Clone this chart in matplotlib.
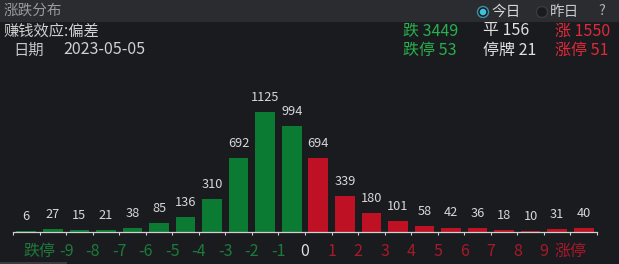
import matplotlib
matplotlib.use("Agg")
import matplotlib.pyplot as plt
import numpy as np
from matplotlib.patches import Rectangle, Ellipse

plt.rcParams['font.family'] = ['Noto Sans CJK SC', 'DejaVu Sans']

values = [6, 27, 15, 21, 38, 85, 136, 310, 692, 1125, 994,
          694, 339, 180, 101, 58, 42, 36, 18, 10, 31, 40]
bar_colors = ['#0b7a33'] * 11 + ['#be1224'] * 11
tick_labels = ['跌停', '-9', '-8', '-7', '-6', '-5', '-4', '-3', '-2', '-1', '0',
               '1', '2', '3', '4', '5', '6', '7', '8', '9', '涨停']
label_colors = ['#1d7a3c'] * 10 + ['#e0e0e0'] + ['#a8192a'] * 10

W, H = 619, 264
BG = '#1a1b1f'
fig = plt.figure(figsize=(W / 100, H / 100), dpi=100, facecolor=BG)


def fx(px):
    return px / W


def fy(py):
    return 1 - py / H


# header band
fig.add_artist(Rectangle((0, fy(22)), 1, 22 / H, transform=fig.transFigure,
                         facecolor='#2b2c30', edgecolor='none', zorder=0))

ax_l, ax_r, ax_b, ax_t = 13, 597, 232, 95
ax = fig.add_axes([ax_l / W, (H - ax_b) / H, (ax_r - ax_l) / W, (ax_b - ax_t) / H])
ax.set_facecolor('none')
n = len(values)
x = np.arange(n) + 0.5
ax.bar(x, values, width=0.74, color=bar_colors, zorder=2)
ax.set_xlim(0, n)
ax.set_ylim(0, 1125 * (ax_b - ax_t) / 120)
for xi, v in zip(x, values):
    ax.annotate(str(v), (xi, v), xytext=(0, 10.5), textcoords='offset points',
                ha='center', va='center', color='#d8d8d8', fontsize=9.2)
for s in ['top', 'left', 'right']:
    ax.spines[s].set_visible(False)
ax.spines['bottom'].set_color('#d0d0d0')
ax.spines['bottom'].set_linewidth(0.9)
ax.set_yticks([])
ax.set_xticks(np.arange(n + 1))
ax.set_xticklabels([''] + tick_labels + [''])
ax.tick_params(axis='x', colors='#d0d0d0', length=2.5, width=0.8, pad=5.5, labelsize=11.5)
for lbl, c in zip(ax.get_xticklabels()[1:-1], label_colors):
    lbl.set_color(c)


def t(px, py, s, c, size=11):
    fig.text(fx(px), fy(py), s, color=c, fontsize=size, va='center', ha='left')


def circ(px, py, d, fc, ec, lw=1):
    fig.add_artist(Ellipse((fx(px), fy(py)), d / W, d / H, transform=fig.transFigure,
                           facecolor=fc, edgecolor=ec, lw=lw))


t(4, 11, '涨跌分布', '#9a9a9a', 10.5)
circ(483, 12, 11, '#1e1f23', '#3a8fa8')
circ(483, 12, 6.5, '#3fc2dc', 'none', 0)
t(491, 12, '今日', '#d8d8d8', 10.5)
circ(542, 12, 11, '#1a1b1f', '#3a3b3f')
t(550, 12, '昨日', '#c8c8c8', 10.5)
t(598, 11, '?', '#b0b0b0', 10.5)

t(4, 31, '赚钱效应:偏差', '#d0d0d0')
t(13, 50, '日期', '#c8c8c8')
t(63, 50, '2023-05-05', '#d0d0d0', 11.5)

green_t, white_t, red_t = '#27b04c', '#e0e0e0', '#e02a38'
t(403, 31, '跌 3449', green_t, 11.5)
t(483, 31, '平 156', white_t, 11.5)
t(555, 31, '涨 1550', red_t, 11.5)
t(403, 50, '跌停 53', green_t, 11.5)
t(483, 50, '停牌 21', white_t, 11.5)
t(555, 50, '涨停 51', red_t, 11.5)

fig.add_artist(Rectangle((0, 0), 67 / W, 2 / H, transform=fig.transFigure,
                         facecolor='#3a3b3f', edgecolor='none'))

fig.savefig('out.png', dpi=100, facecolor=BG)
